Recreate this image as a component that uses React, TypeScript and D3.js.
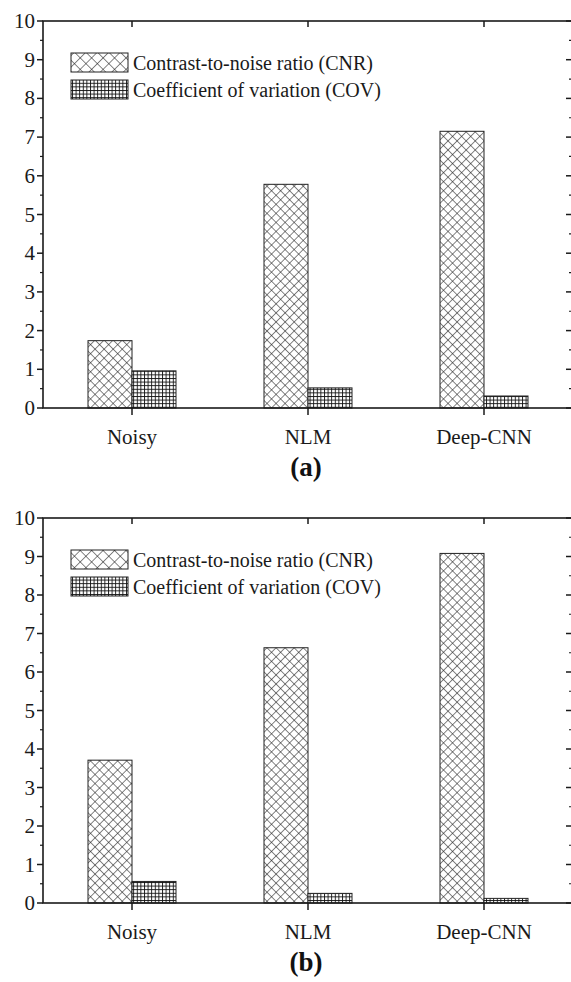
import React from "react";
import * as d3 from "d3";

const categories = ["Noisy", "NLM", "Deep-CNN"];
const seriesNames = ["Contrast-to-noise ratio (CNR)", "Coefficient of variation (COV)"];
const cnrA = [1.74, 5.78, 7.15];
const covA = [0.96, 0.52, 0.31];
const cnrB = [3.71, 6.63, 9.08];
const covB = [0.56, 0.25, 0.12];
const yTicks = [0, 1, 2, 3, 4, 5, 6, 7, 8, 9, 10];
const panelLabels = ["(a)", "(b)"];

const INK = "#1a1a1a";
const fp = { fontFamily: "Times New Roman", style: { fontFamily: "'Times New Roman'" } };

function Panel({ top, bottom, cnr, cov, label, id }) {
  const left = 43;
  const right = 572;
  const x = d3.scaleBand().domain(categories).range([left + 1, right]).padding(0);
  const y = d3.scaleLinear().domain([0, 10]).range([bottom, top]);
  const half = 44;
  const minor = d3.range(0.5, 10, 1);
  const series = [cnr, cov];
  const fills = [`url(#xh-${id})`, `url(#grid-${id})`];
  const legFills = [`url(#xhl-${id})`, `url(#gridl-${id})`];
  return (
    <g>
      <defs>
        <pattern id={`xh-${id}`} patternUnits="userSpaceOnUse" width={6.4} height={6.4} patternTransform="rotate(45)">
          <rect width={6.4} height={6.4} fill="#fff" />
          <line x1={0} y1={0} x2={6.4} y2={0} stroke="#222" strokeWidth={1.1} />
          <line x1={0} y1={0} x2={0} y2={6.4} stroke="#222" strokeWidth={1.1} />
        </pattern>
        <pattern id={`xhl-${id}`} patternUnits="userSpaceOnUse" width={8.1} height={8.1} patternTransform="rotate(45)">
          <rect width={8.1} height={8.1} fill="#fff" />
          <line x1={0} y1={0} x2={8.1} y2={0} stroke="#222" strokeWidth={1.1} />
          <line x1={0} y1={0} x2={0} y2={8.1} stroke="#222" strokeWidth={1.1} />
        </pattern>
        <pattern id={`grid-${id}`} patternUnits="userSpaceOnUse" width={3.6} height={3.6}>
          <rect width={3.6} height={3.6} fill="#fff" />
          <line x1={0} y1={0.5} x2={3.6} y2={0.5} stroke="#111" strokeWidth={0.9} />
          <line x1={0.5} y1={0} x2={0.5} y2={3.6} stroke="#111" strokeWidth={0.9} />
        </pattern>
        <pattern id={`gridl-${id}`} patternUnits="userSpaceOnUse" width={3.6} height={3.6}>
          <rect width={3.6} height={3.6} fill="#fff" />
          <line x1={0} y1={0.5} x2={3.6} y2={0.5} stroke="#111" strokeWidth={0.9} />
          <line x1={0.5} y1={0} x2={0.5} y2={3.6} stroke="#111" strokeWidth={0.9} />
        </pattern>
      </defs>
      {categories.map((c, i) => {
        const cx = x(c) + x.bandwidth() / 2;
        const inner = d3.scaleBand().domain(["0", "1"]).range([cx - half, cx + half]);
        return series.map((s, k) => (
          <rect
            key={c + k}
            x={inner(String(k))}
            y={y(s[i])}
            width={inner.bandwidth()}
            height={y(0) - y(s[i])}
            fill={fills[k]}
            stroke="#222"
            strokeWidth={1}
          />
        ));
      })}
      <rect x={left} y={top} width={right - left} height={bottom - top} fill="none" stroke={INK} strokeWidth={1.6} />
      {yTicks.map((t) => (
        <g key={"l" + t}>
          <line x1={left - 6} x2={left} y1={y(t)} y2={y(t)} stroke={INK} strokeWidth={1.5} />
          <text x={left - 8} y={y(t) + 7} textAnchor="end" {...fp} fontSize={21} fill={INK}>
            {t}
          </text>
          <line x1={right} x2={right - 6} y1={y(t)} y2={y(t)} stroke={INK} strokeWidth={1.5} />
        </g>
      ))}
      {minor.map((t) => (
        <g key={"m" + t}>
          <line x1={left - 3} x2={left} y1={y(t)} y2={y(t)} stroke={INK} strokeWidth={1.2} />
          <line x1={right} x2={right - 3} y1={y(t)} y2={y(t)} stroke={INK} strokeWidth={1.2} />
        </g>
      ))}
      {categories.map((c) => {
        const cx = x(c) + x.bandwidth() / 2;
        return (
          <g key={"x" + c}>
            <line x1={cx} x2={cx} y1={bottom} y2={bottom + 7} stroke={INK} strokeWidth={1.5} />
            <line x1={cx} x2={cx} y1={top} y2={top + 6} stroke={INK} strokeWidth={1.5} />
            <text x={cx} y={bottom + 36} textAnchor="middle" {...fp} fontSize={21} fill={INK}>
              {c}
            </text>
          </g>
        );
      })}
      {seriesNames.map((n, k) => (
        <g key={n}>
          <rect x={71} y={top + 32 + k * 27} width={57} height={19} fill={legFills[k]} stroke="#222" strokeWidth={1} />
          <text x={133} y={top + 49 + k * 27} {...fp} fontSize={20} fill={INK}>
            {n}
          </text>
        </g>
      ))}
      <text x={306} y={bottom + 68} textAnchor="middle" {...fp} fontSize={27} fontWeight="bold" fill="#111">
        {label}
      </text>
    </g>
  );
}

export default function App() {
  return (
    <svg width={571} height={982} style={{ position: "absolute", left: 0, top: 0 }}>
      <rect width={571} height={982} fill="#fff" />
      <Panel id="a" top={21} bottom={408} cnr={cnrA} cov={covA} label={panelLabels[0]} />
      <Panel id="b" top={518} bottom={903} cnr={cnrB} cov={covB} label={panelLabels[1]} />
    </svg>
  );
}
